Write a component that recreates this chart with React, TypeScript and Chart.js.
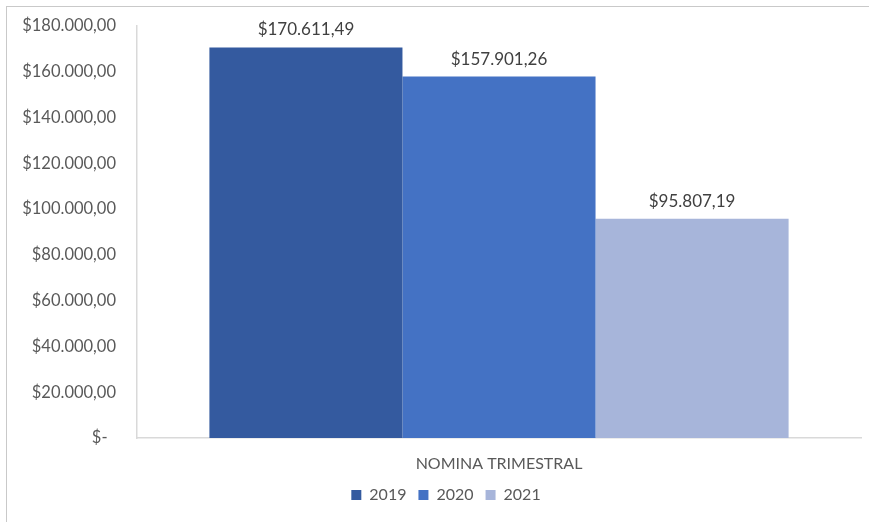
import React, { useEffect, useRef } from "react";
import { Chart, registerables } from "chart.js";

Chart.register(...registerables);

const categories = ["NOMINA TRIMESTRAL"];
const seriesLabels = ["2019", "2020", "2021"];
const values2019 = [170611.49];
const values2020 = [157901.26];
const values2021 = [95807.19];
const seriesColors = ["#345A9F", "#4472C4", "#A7B5DA"];
const yMin = 0;
const yMax = 180000;
const yStep = 20000;

const FONT = "Lato, 'Open Sans', sans-serif";

function fmtMoney(v: number): string {
  if (v === 0) return "$-  ";
  const [intPart, dec] = v.toFixed(2).split(".");
  const withDots = intPart.replace(/\B(?=(\d{3})+(?!\d))/g, ".");
  return "$" + withDots + "," + dec;
}

const valueLabelPlugin = {
  id: "valueLabels",
  afterDatasetsDraw(chart: any) {
    const ctx = chart.ctx;
    ctx.save();
    ctx.font = `17px ${FONT}`;
    ctx.fillStyle = "#404040";
    ctx.textAlign = "center";
    ctx.textBaseline = "middle";
    chart.data.datasets.forEach((ds: any, di: number) => {
      const meta = chart.getDatasetMeta(di);
      meta.data.forEach((bar: any, i: number) => {
        const v = ds.data[i] as number;
        ctx.fillText(fmtMoney(v), bar.x, bar.y - 17.5);
      });
    });
    ctx.restore();
  },
};

// Centre the legend a little right of the canvas centre, as in the reference.
const legendShiftPlugin = {
  id: "legendShift",
  beforeDraw(chart: any) {
    const lg = chart.legend;
    if (!lg) return;
    lg.left = 31;
    lg.right = chart.chartArea.right;
  },
};

export default function App() {
  const canvasRef = useRef<HTMLCanvasElement | null>(null);

  useEffect(() => {
    document.body.style.margin = "0";
    const canvas = canvasRef.current;
    if (!canvas) return;
    const seriesValues = [values2019, values2020, values2021];
    const chart = new Chart(canvas, {
      type: "bar",
      data: {
        labels: categories,
        datasets: seriesLabels.map((label, i) => ({
          label,
          data: seriesValues[i],
          backgroundColor: seriesColors[i],
          borderWidth: 0,
          categoryPercentage: 0.8,
          barPercentage: 1.0,
        })),
      },
      options: {
        animation: false,
        responsive: true,
        maintainAspectRatio: false,
        layout: { padding: { top: 26, bottom: 9, left: 12, right: 8 } },
        plugins: {
          tooltip: { enabled: false },
          legend: {
            position: "bottom",
            labels: {
              boxWidth: 10,
              boxHeight: 10,
              padding: 12,
              color: "#595959",
              font: { family: FONT, size: 16 },
            },
          },
        },
        scales: {
          x: {
            grid: { display: false, drawTicks: false },
            border: { display: true, color: "#d9d9d9", width: 1.5 },
            ticks: {
              color: "#595959",
              font: { family: FONT, size: 16 },
              padding: 16,
            },
            afterFit(scale: any) {
              scale.height = 37;
            },
          },
          y: {
            min: yMin,
            max: yMax,
            grid: { display: false, drawTicks: false },
            border: { display: true, color: "#d9d9d9", width: 1.5 },
            ticks: {
              stepSize: yStep,
              color: "#595959",
              font: { family: FONT, size: 16.5 },
              padding: 21,
              callback: (v: any) => fmtMoney(Number(v)),
            },
            afterFit(scale: any) {
              scale.width = 125;
              scale.paddingTop = 0;
              scale.paddingBottom = 0;
            },
          },
        },
      },
      plugins: [valueLabelPlugin, legendShiftPlugin],
    });
    return () => chart.destroy();
  }, []);

  return (
    <div style={{ position: "relative", width: 869, height: 522, background: "#ffffff" }}>
      <div
        style={{
          position: "absolute",
          left: 6,
          top: 6,
          right: 0,
          bottom: 0,
          borderTop: "1.5px solid #c9c9c9",
          borderLeft: "1.5px solid #c9c9c9",
          pointerEvents: "none",
        }}
      />
      <canvas ref={canvasRef} style={{ position: "absolute", left: 0, top: 0, width: 869, height: 522 }} />
    </div>
  );
}
